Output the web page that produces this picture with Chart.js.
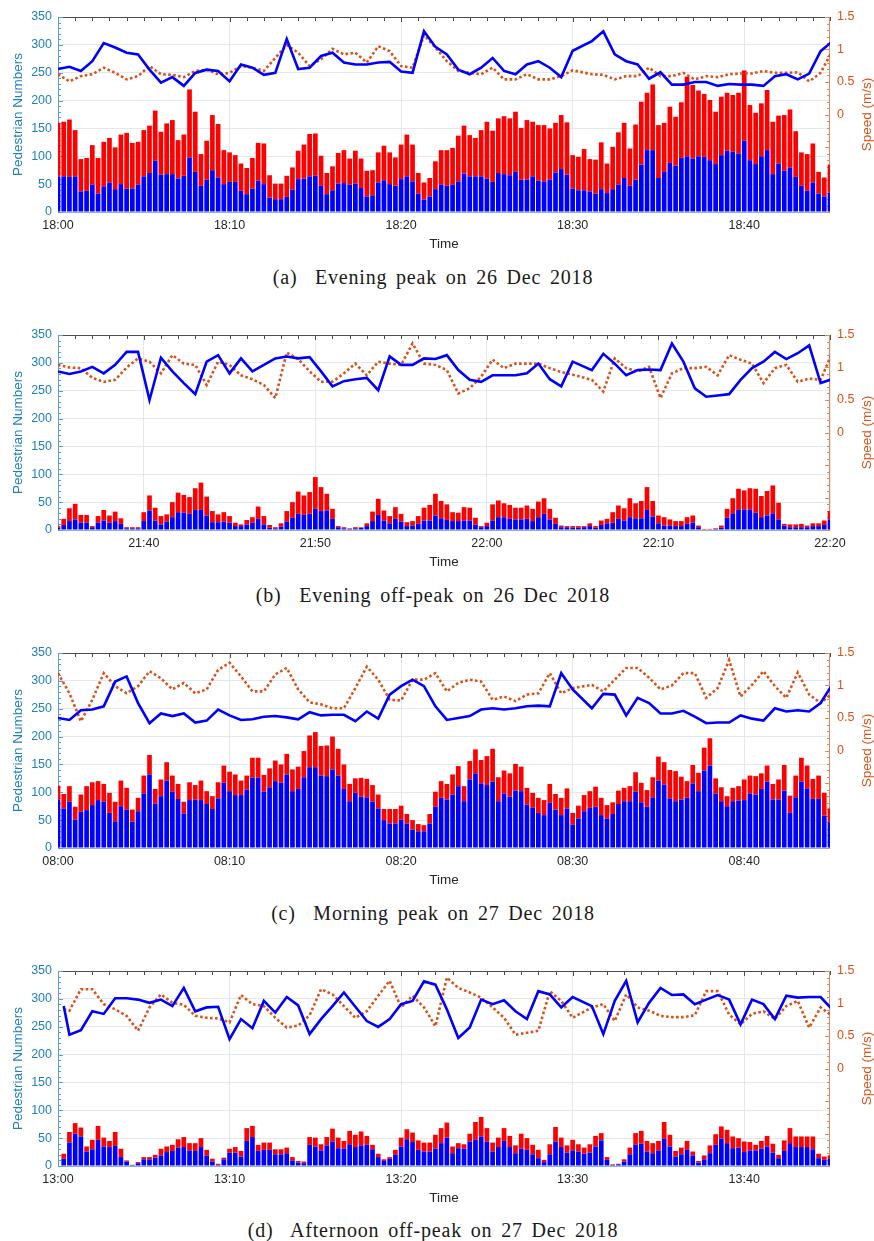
<!DOCTYPE html>
<html>
<head>
<meta charset="utf-8">
<script src="https://cdn.jsdelivr.net/npm/chart.js@4.4.1/dist/chart.umd.min.js"></script>
<style>
  body { margin: 0; background: #fff; width: 874px; height: 1241px; position: relative; overflow: hidden; }
  .panel { position: absolute; left: 0; width: 874px; height: 255px; }
  .cap { position: absolute; left: 0; width: 866px; height: 22px; line-height: 22px; text-align: center; white-space: pre;
         font-family: "Liberation Serif", "Times New Roman", serif; font-size: 20px; letter-spacing: 0.8px;
         word-spacing: 3px; color: #1a1a1a; }
</style>
</head>
<body>
<div class="panel" style="top:0px"><canvas id="c0" width="874" height="255"></canvas></div>
<div class="cap" style="top:266px" id="t0"></div>
<div class="panel" style="top:318px"><canvas id="c1" width="874" height="255"></canvas></div>
<div class="cap" style="top:584px" id="t1"></div>
<div class="panel" style="top:636px"><canvas id="c2" width="874" height="255"></canvas></div>
<div class="cap" style="top:902px" id="t2"></div>
<div class="panel" style="top:954px"><canvas id="c3" width="874" height="255"></canvas></div>
<div class="cap" style="top:1219px" id="t3"></div>

<script>
// ---- data (minutes from panel start, pedestrians per 20 s, speed in m/s) ----
const captions = [
  "(a)  Evening peak on 26 Dec 2018",
  "(b)  Evening off-peak on 26 Dec 2018",
  "(c)  Morning peak on 27 Dec 2018",
  "(d)  Afternoon off-peak on 27 Dec 2018"
];
const xTickVals = [[0, 10, 20, 30, 40], [5, 15, 25, 35, 45], [0, 10, 20, 30, 40], [0, 10, 20, 30, 40]];
const xTickLabels = [
  ["18:00", "18:10", "18:20", "18:30", "18:40"],
  ["21:40", "21:50", "22:00", "22:10", "22:20"],
  ["08:00", "08:10", "08:20", "08:30", "08:40"],
  ["13:00", "13:10", "13:20", "13:30", "13:40"]
];
const barFirst = [0, 0, 0, 1];        // index of first 20 s bar
const lineFirstTime = [0, 0, 0, 1 / 3];
const seg2Start = 31.12;              // second run of speed samples

// (a) evening peak
const aTotal = [160,162,166,147,95,97,120,97,126,133,116,139,142,124,126,147,155,182,144,159,165,129,139,220,180,104,128,174,158,111,
  107,102,87,79,97,124,123,66,51,51,65,80,110,121,140,141,101,70,82,106,
  111,96,110,96,74,75,107,119,107,98,121,139,121,70,53,61,91,111,111,115,
  137,155,138,133,147,162,146,168,172,168,180,151,165,162,156,156,150,160,174,161,
  102,99,113,95,94,125,87,117,143,160,114,157,198,214,229,156,160,189,171,197,
  243,228,218,212,201,180,207,214,210,214,254,192,178,195,219,162,173,174,184,145,
  107,104,123,72,62,85];
const aBlue = [63,64,63,64,37,38,49,33,46,53,41,50,42,42,49,64,70,92,67,68,68,60,65,98,72,47,58,75,62,50,
  54,54,38,32,42,56,50,26,23,23,27,40,59,60,64,65,47,32,39,51,
  52,49,51,43,28,30,53,57,50,47,59,64,55,33,22,28,41,49,47,49,
  55,69,64,64,64,60,54,70,68,66,72,58,58,64,56,55,58,71,77,67,
  42,39,39,37,33,41,34,41,49,61,47,58,85,111,111,61,72,88,83,97,
  100,96,100,99,93,86,102,110,108,105,128,93,86,100,111,68,87,74,80,63,
  47,38,53,33,28,35];
const aSpeedBlue = [0.70,0.735,0.67,0.82,1.10,1.03,0.95,0.925,0.69,0.49,0.575,0.44,0.64,0.69,0.67,0.51,0.77,0.72,0.61,0.64,1.16,0.70,
  0.72,0.90,0.95,0.80,0.77,0.77,0.80,0.81,0.66,0.64,1.28,1.04,0.925,0.69,0.62,0.72,0.87,0.67,0.62,0.77,0.82,0.72,0.575,0.98,
  1.13,1.28,0.925,0.82,0.77,0.55,0.65,0.46,0.46,0.50,0.50,0.44,0.47,0.46,0.46,0.44,0.59,0.62,0.54,0.63,0.975,1.12];
const aSpeedOrange = [0.62,0.51,0.59,0.62,0.72,0.64,0.54,0.59,0.745,0.62,0.61,0.575,0.67,0.69,0.62,0.64,0.745,0.72,0.67,0.87,1.07,0.95,
  0.745,0.85,1.01,0.925,0.95,0.80,1.05,0.975,0.745,0.72,1.22,1.03,0.82,0.67,0.64,0.62,0.72,0.54,0.54,0.62,0.54,0.54,0.59,0.68,
  0.62,0.61,0.54,0.59,0.59,0.72,0.59,0.59,0.64,0.54,0.59,0.575,0.62,0.63,0.63,0.67,0.64,0.64,0.65,0.51,0.64,0.975];

// (b) evening off-peak
const bTotal = [7,20,39,47,27,27,7,25,36,26,33,21,5,5,5,32,62,40,25,28,50,67,63,59,75,85,60,34,28,32,
  25,13,10,18,23,42,25,9,5,12,34,50,69,
  62,68,95,77,65,38,7,5,3,5,5,12,33,56,35,25,41,29,14,16,25,40,45,65,52,46,32,31,41,40,
  22,7,13,46,53,48,45,40,40,44,38,51,57,38,22,8,7,7,7,7,12,
  7,17,20,32,44,39,57,48,52,77,52,26,23,19,16,16,23,26,8,2,2,3,8,38,57,74,71,75,74,61,
  70,80,49,11,10,10,11,8,12,12,17,34];
const bBlue = [4,9,16,19,13,13,5,13,17,13,16,11,3,3,3,16,35,17,10,15,23,32,31,29,36,36,26,14,14,15,
  13,7,7,10,13,20,10,4,3,6,15,22,29,
  27,29,38,34,35,20,5,3,2,3,4,7,16,27,17,12,20,15,7,8,11,17,17,26,21,18,16,16,17,17,
  10,5,7,17,23,23,20,19,19,20,16,23,29,19,11,5,5,4,4,5,7,
  4,9,12,13,20,17,23,21,21,36,24,12,8,8,7,7,11,13,5,1,1,2,4,22,30,36,37,37,31,23,
  26,30,19,8,5,5,5,5,7,7,9,19];
const bSpeedBlue = [0.94,0.90,0.94,1.01,0.91,1.04,1.24,1.24,0.50,1.15,0.94,0.76,0.59,1.09,1.19,0.91,1.14,0.94,1.04,1.14,1.17,1.14,
  1.16,0.94,0.71,0.79,0.82,0.84,0.65,1.17,1.04,1.04,1.14,1.13,1.19,0.96,0.81,0.78,0.88,0.88,0.88,0.91,1.06,0.82,0.71,1.09,
  0.96,1.21,1.06,0.88,0.96,0.97,0.96,1.37,1.09,0.68,0.55,0.57,0.59,0.81,0.99,1.09,1.24,1.13,1.22,1.34,0.76,0.82];
const bSpeedOrange = [1.04,1.00,0.99,0.84,0.78,0.81,1.00,1.14,1.09,0.91,1.19,1.06,1.04,0.73,1.09,1.04,0.88,0.82,0.73,0.53,1.23,1.13,
  0.94,0.78,0.78,0.91,1.06,0.88,1.09,1.06,1.04,1.37,1.06,1.04,0.96,0.60,0.68,0.86,1.12,0.99,1.06,1.06,1.06,0.99,0.93,0.89,
  0.81,0.63,1.14,0.99,0.94,1.01,0.53,0.91,0.99,0.99,1.01,0.88,1.19,1.12,1.06,0.76,0.99,1.04,0.78,0.83,0.81,1.22];

// (c) morning peak
const cTotal = [112,97,111,74,96,111,118,120,115,99,83,121,108,69,90,130,167,106,123,154,130,115,83,118,113,121,102,93,118,148,
  137,132,121,130,162,162,131,143,157,150,169,141,146,
  174,202,208,183,184,200,178,150,115,125,126,124,113,96,70,70,70,76,61,50,43,41,61,101,120,115,132,147,111,156,
  177,158,165,178,127,139,134,151,146,108,99,90,86,115,97,90,107,63,76,95,102,
  110,90,77,82,103,108,111,136,117,104,127,164,154,140,138,128,120,149,135,180,197,125,109,93,108,111,123,130,129,134,
  148,115,123,149,94,130,162,148,124,130,99,71];
const cBlue = [87,71,83,51,65,68,77,86,83,63,48,75,69,47,66,98,132,80,93,121,101,88,62,86,87,86,79,70,89,117,
  102,95,95,105,126,126,101,109,120,117,132,102,106,
  127,145,145,130,129,141,130,106,84,99,92,91,83,71,50,44,44,51,44,33,30,30,44,74,90,87,96,111,84,123,
  134,116,113,119,84,98,92,103,102,78,72,63,59,81,69,59,71,42,53,66,72,
  74,59,53,61,79,84,84,101,82,74,91,121,114,89,84,87,90,116,102,139,148,98,84,75,84,85,86,98,96,106,
  119,87,87,103,63,91,119,107,88,88,58,46];
const cSpeedBlue = [0.50,0.47,0.62,0.63,0.68,1.06,1.14,0.73,0.42,0.57,0.53,0.57,0.43,0.46,0.63,0.54,0.47,0.48,0.52,0.53,0.51,0.48,
  0.59,0.54,0.55,0.55,0.45,0.60,0.49,0.86,0.99,1.09,0.99,0.68,0.47,0.50,0.53,0.63,0.65,0.63,0.65,0.68,0.69,0.68,1.19,0.94,
  0.65,0.87,0.86,0.54,0.81,0.73,0.57,0.57,0.61,0.52,0.42,0.43,0.43,0.54,0.49,0.46,0.65,0.60,0.62,0.60,0.73,1.01];
const cSpeedOrange = [1.19,0.88,0.45,0.78,1.19,0.99,0.88,0.99,1.22,1.11,0.94,1.04,0.88,0.94,1.24,1.35,1.14,0.91,0.91,1.17,1.27,0.94,
  0.74,0.71,0.65,0.65,0.96,1.29,1.09,0.78,0.77,1.09,1.09,1.19,0.91,1.04,1.09,1.06,0.78,0.83,0.76,0.86,0.88,1.19,0.88,0.96,
  1.01,0.91,1.09,1.27,1.27,1.12,0.94,1.00,1.19,1.19,0.81,0.96,1.39,0.83,1.01,1.22,0.99,0.81,1.20,0.86,0.73,0.88];

// (d) afternoon off-peak
const dTotal = [22,61,77,69,35,47,72,51,45,61,31,10,2,7,16,16,20,31,35,38,48,52,41,41,50,29,13,4,15,
  31,34,27,68,72,38,42,42,30,30,33,16,9,
  8,52,51,39,52,67,51,45,63,56,62,54,38,22,12,16,29,51,66,60,46,42,42,56,68,78,35,41,39,58,
  79,88,68,42,51,68,54,37,58,50,38,29,11,39,70,51,37,47,39,33,39,
  54,59,16,3,4,12,33,59,63,45,41,45,79,56,27,33,45,26,9,19,37,57,71,65,53,50,44,43,38,45,
  54,40,20,46,68,53,53,53,53,22,17,19];
const dBlue = [13,42,58,53,26,30,47,35,34,36,16,8,2,5,12,12,15,19,25,27,33,34,28,27,34,19,8,2,12,
  24,24,17,45,52,27,29,29,21,21,23,10,6,
  5,38,35,28,37,44,32,31,39,34,37,38,30,16,9,13,20,35,48,43,29,26,26,31,41,51,23,32,31,44,
  47,53,44,26,34,45,34,23,31,29,21,14,7,21,44,34,24,28,26,22,24,
  35,46,11,2,3,8,21,38,40,26,23,28,49,35,17,21,29,19,6,12,23,38,49,41,32,33,25,28,28,31,
  35,24,14,27,41,34,34,34,30,14,11,13];
const dSpeedBlue = [0.96,0.52,0.59,0.88,0.84,1.08,1.08,1.06,1.01,1.06,0.96,1.24,0.88,0.94,0.95,0.45,0.76,0.62,1.04,0.86,1.10,0.97,
  0.53,0.76,0.96,1.17,0.95,0.73,0.64,0.76,0.99,1.04,1.34,1.29,0.91,0.47,0.63,1.06,0.99,1.05,0.88,0.76,1.19,1.14,0.94,1.10,
  0.96,0.53,1.04,1.35,0.71,1.01,1.24,1.13,1.14,0.99,1.06,1.13,1.06,0.68,1.06,0.99,0.76,1.12,1.09,1.10,1.10,0.91];
const dSpeedOrange = [0.91,0.89,1.22,1.22,0.99,0.91,0.81,0.58,0.94,1.14,1.01,0.98,0.81,0.78,0.77,0.71,1.13,0.99,0.96,0.78,0.63,0.66,
  0.82,1.22,1.14,0.96,0.78,0.88,1.12,1.35,0.94,1.12,0.94,0.65,1.40,1.24,1.17,1.09,0.94,0.78,0.52,0.55,0.58,1.19,1.04,0.78,
  0.94,0.99,0.73,1.14,0.94,0.89,0.81,0.79,0.79,0.82,1.19,1.19,0.83,0.68,0.84,0.88,0.76,0.96,1.04,0.63,0.94,0.81];

const totals = [aTotal, bTotal, cTotal, dTotal];
const blues = [aBlue, bBlue, cBlue, dBlue];
const speedBlue = [aSpeedBlue, bSpeedBlue, cSpeedBlue, dSpeedBlue];
const speedOrange = [aSpeedOrange, bSpeedOrange, cSpeedOrange, dSpeedOrange];

// ---- styling ----
const leftColor = '#1f7fc0';
const rightColor = '#D95319';
const gridColor = '#e1e8ef';
Chart.defaults.font.family = '"Liberation Sans", Arial, Helvetica, sans-serif';

function sampleTime(p, i) {
  if (i < 46) return i === 0 ? lineFirstTime[p] : i * 2 / 3;
  return seg2Start + (i - 46) * 2 / 3;
}

// inward tick marks, axis lines and axis titles (MATLAB look)
const axisDeco = {
  id: 'axisDeco',
  beforeDatasetsDraw(chart) {
    const { ctx, chartArea: a, scales: { x, y, y1 } } = chart;
    ctx.save();
    ctx.lineWidth = 1;
    function seg(x0, y0, x1, y1_) { ctx.beginPath(); ctx.moveTo(x0, y0); ctx.lineTo(x1, y1_); ctx.stroke(); }
    // top box line + minute ticks
    ctx.strokeStyle = '#4d4d4d';
    seg(a.left, a.top + 0.5, a.right, a.top + 0.5);
    for (let m = 0; m <= 45; m++) {
      const px = Math.round(x.getPixelForValue(m)) + 0.5;
      const major = chart.options.scales.x._major.includes(m);
      seg(px, a.top, px, a.top + (major ? 5 : 4));
    }
    // bottom line
    ctx.strokeStyle = '#8fb0cc';
    seg(a.left, a.bottom + 0.5, a.right, a.bottom + 0.5);
    // left axis
    ctx.strokeStyle = '#5a9fd4';
    seg(a.left + 0.5, a.top, a.left + 0.5, a.bottom + 1);
    for (let v = 0; v <= 350; v += 10) {
      const py = Math.round(y.getPixelForValue(v)) + 0.5;
      seg(a.left, py, a.left + (v % 50 === 0 ? 5 : 3), py);
    }
    // right axis
    ctx.strokeStyle = '#e08a60';
    seg(a.right - 0.5, a.top, a.right - 0.5, a.bottom + 1);
    for (let k = -15; k <= 15; k++) {
      const py = Math.round(y1.getPixelForValue(k / 10)) + 0.5;
      seg(a.right, py, a.right - (k % 5 === 0 ? 5 : 3), py);
    }
    ctx.restore();
  },
  afterDraw(chart) {
    const { ctx, chartArea: a } = chart;
    const midY = (a.top + a.bottom) / 2;
    ctx.save();
    ctx.textAlign = 'center';
    ctx.textBaseline = 'middle';
    ctx.font = '13.5px "Liberation Sans", Arial, sans-serif';
    ctx.fillStyle = leftColor;
    ctx.save(); ctx.translate(18, midY); ctx.rotate(-Math.PI / 2); ctx.fillText('Pedestrian Numbers', 0, 0); ctx.restore();
    ctx.fillStyle = rightColor;
    ctx.save(); ctx.translate(867, midY); ctx.rotate(-Math.PI / 2); ctx.fillText('Speed (m/s)', 0, 0); ctx.restore();
    ctx.fillStyle = '#262626';
    ctx.fillText('Time', (a.left + a.right) / 2, 244);
    ctx.restore();
  }
};

function makePanel(p) {
  document.getElementById('t' + p).textContent = captions[p];
  const blueBars = blues[p].map((v, i) => ({ x: (barFirst[p] + i) / 3, y: v }));
  const redBars = totals[p].map((v, i) => ({ x: (barFirst[p] + i) / 3, y: v - blues[p][i] }));
  const lineB = speedBlue[p].map((v, i) => ({ x: sampleTime(p, i), y: v }));
  const lineO = speedOrange[p].map((v, i) => ({ x: sampleTime(p, i), y: v }));

  new Chart(document.getElementById('c' + p), {
    type: 'bar',
    data: {
      datasets: [
        { type: 'line', data: lineB, yAxisID: 'y1', borderColor: '#0000FF', borderWidth: 2.6,
          pointRadius: 0, tension: 0, order: 0, clip: 0 },
        { type: 'line', data: lineO, yAxisID: 'y1', borderColor: rightColor, borderWidth: 2.6,
          borderDash: [2.6, 2.4], pointRadius: 0, tension: 0, order: 1, clip: 0 },
        { data: blueBars, yAxisID: 'y', backgroundColor: '#0000FF', borderWidth: 0,
          barPercentage: 0.82, categoryPercentage: 1, order: 2, clip: 0 },
        { data: redBars, yAxisID: 'y', backgroundColor: '#FF0000', borderWidth: 0,
          barPercentage: 0.82, categoryPercentage: 1, order: 2, clip: 0 }
      ]
    },
    options: {
      responsive: false,
      animation: false,
      devicePixelRatio: 1,
      events: [],
      layout: { padding: { top: 17, left: 0, right: 0, bottom: 0 } },
      plugins: { legend: { display: false }, tooltip: { enabled: false } },
      scales: {
        x: {
          type: 'linear', min: 0, max: 45, offset: false, stacked: true,
          _major: xTickVals[p],
          afterBuildTicks: s => { s.ticks = xTickVals[p].map(v => ({ value: v })); },
          afterFit: s => { s.height = 43; },
          ticks: { callback: (v, i) => xTickLabels[p][i], color: '#262626', font: { size: 12.5 },
                   padding: 6, maxRotation: 0, autoSkip: false },
          grid: { color: gridColor, drawTicks: false, offset: false },
          border: { display: false }
        },
        y: {
          position: 'left', min: 0, max: 350, stacked: true,
          afterFit: s => { s.width = 58; },
          ticks: { stepSize: 50, color: leftColor, font: { size: 12.5 }, padding: 6 },
          grid: { color: gridColor, drawTicks: false },
          border: { display: false }
        },
        y1: {
          position: 'right', min: -1.5, max: 1.5,
          afterFit: s => { s.width = 44; },
          ticks: { stepSize: 0.5, color: rightColor, font: { size: 12.5 }, padding: 7,
                   callback: v => v >= -0.001 ? String(Math.round(v * 10) / 10) : '' },
          grid: { display: false, drawTicks: false },
          border: { display: false }
        }
      }
    },
    plugins: [axisDeco]
  });
}

for (let p = 0; p < 4; p++) makePanel(p);
</script>
</body>
</html>
